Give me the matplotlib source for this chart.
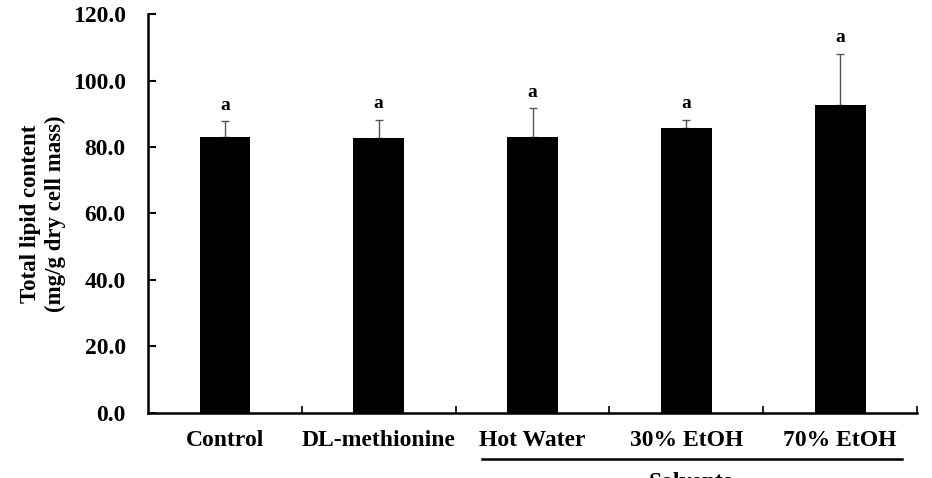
import matplotlib.pyplot as plt
import numpy as np

# 데이터
categories = ['Control', 'DL-methionine', 'Hot Water', '30% EtOH', '70% EtOH']
lipid = [83.0, 82.6, 83.0, 85.6, 92.6]
sd = [4.7, 5.6, 8.6, 2.6, 15.4]
letters = ['a', 'a', 'a', 'a', 'a']
yticks = [0, 20, 40, 60, 80, 100, 120]

plt.rcParams['font.family'] = ['Liberation Serif', 'DejaVu Serif']

fig = plt.figure(figsize=(9.32, 4.78), dpi=100)
ax = fig.add_axes([0.1588, 0.136, 0.8252, 0.8347])

x = np.arange(len(categories))
ax.bar(x, lipid, width=0.33, color='black', zorder=2)
ax.errorbar(x, lipid, yerr=[np.zeros(len(sd)), sd], fmt='none',
            ecolor='#555555', elinewidth=1, capsize=3, capthick=1, zorder=1)

for xi, m, s, t in zip(x, lipid, sd, letters):
    ax.text(xi, m + s + 2.3, t, ha='center', va='bottom',
            fontsize=14, fontweight='bold')

ax.set_xlim(-0.5, 4.5)
ax.set_ylim(0, 120)
ax.set_yticks(yticks)
ax.set_yticklabels([f'{v:.1f}' for v in yticks], fontsize=17, fontweight='bold')
ax.tick_params(axis='y', direction='in', length=6, width=1.5, pad=16)

ax.set_xticks(x)
ax.set_xticklabels(categories, fontsize=17, fontweight='bold')
ax.tick_params(axis='x', which='major', length=0, pad=12)
ax.set_xticks(np.arange(0.5, 5, 1), minor=True)
ax.tick_params(axis='x', which='minor', direction='in', length=5, width=1.2)

for side in ['top', 'right']:
    ax.spines[side].set_visible(False)
for side in ['left', 'bottom']:
    ax.spines[side].set_linewidth(1.8)

ax.set_ylabel('Total lipid content\n(mg/g dry cell mass)', fontsize=16.5,
              fontweight='bold', labelpad=5, linespacing=1.25)

# 용매 그룹 표시
ax.plot([1.67, 4.40], [-13.8, -13.8], color='black', lw=1.8, clip_on=False)
ax.text(3.03, -17.6, 'Solvents', ha='center', va='top', fontsize=17,
        fontweight='bold')

fig.savefig('out.png', dpi=100)
